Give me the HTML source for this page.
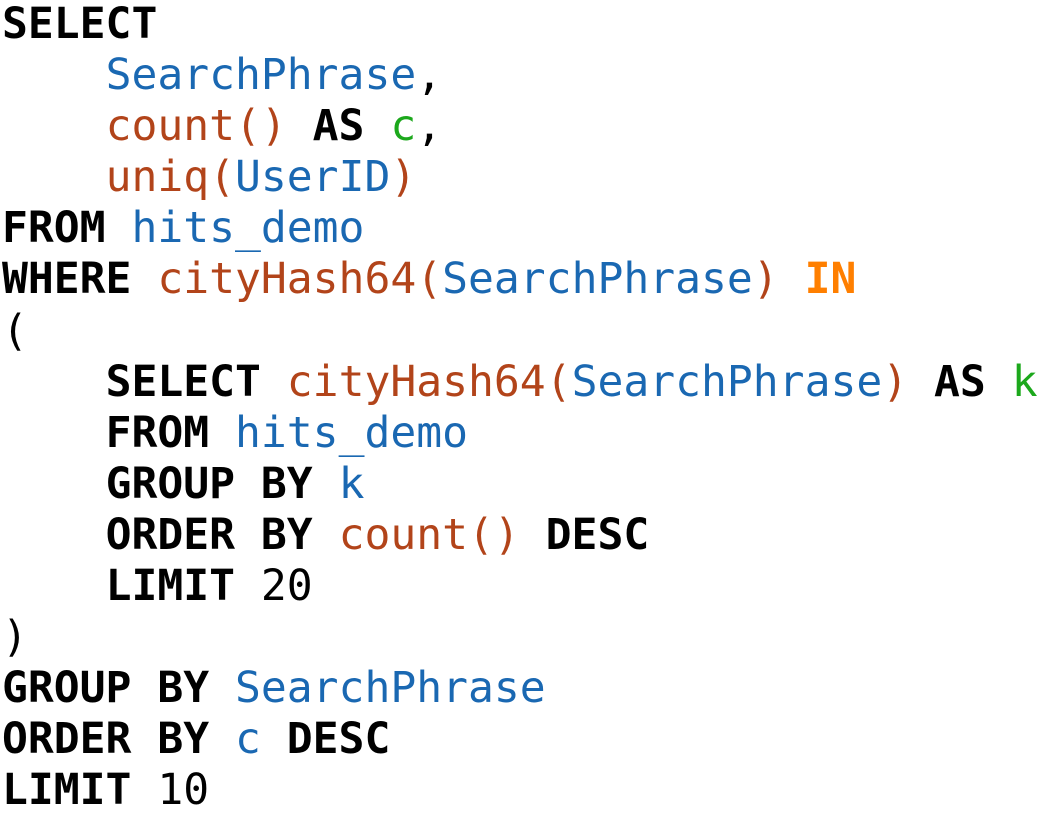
<!DOCTYPE html>
<html><head><meta charset="utf-8"><style>
html,body{margin:0;padding:0;background:#fff;width:1060px;height:821px;overflow:hidden}
pre{position:absolute;left:2px;top:-1px;margin:0;font-family:"DejaVu Sans Mono","Liberation Mono",monospace;font-size:43px;line-height:51.1px;color:#000}
b{font-weight:bold;color:#000}
.i{color:#1a68b2}.f{color:#b2441a}.a{color:#1ca81c}.o{color:#ff7f00;font-weight:bold}
</style></head><body><pre><b>SELECT</b>
    <span class="i">SearchPhrase</span>,
    <span class="f">count()</span> <b>AS</b> <span class="a">c</span>,
    <span class="f">uniq(</span><span class="i">UserID</span><span class="f">)</span>
<b>FROM</b> <span class="i">hits_demo</span>
<b>WHERE</b> <span class="f">cityHash64(</span><span class="i">SearchPhrase</span><span class="f">)</span> <span class="o">IN</span>
(
    <b>SELECT</b> <span class="f">cityHash64(</span><span class="i">SearchPhrase</span><span class="f">)</span> <b>AS</b> <span class="a">k</span>
    <b>FROM</b> <span class="i">hits_demo</span>
    <b>GROUP BY</b> <span class="i">k</span>
    <b>ORDER BY</b> <span class="f">count()</span> <b>DESC</b>
    <b>LIMIT</b> 20
)
<b>GROUP BY</b> <span class="i">SearchPhrase</span>
<b>ORDER BY</b> <span class="i">c</span> <b>DESC</b>
<b>LIMIT</b> 10</pre></body></html>
